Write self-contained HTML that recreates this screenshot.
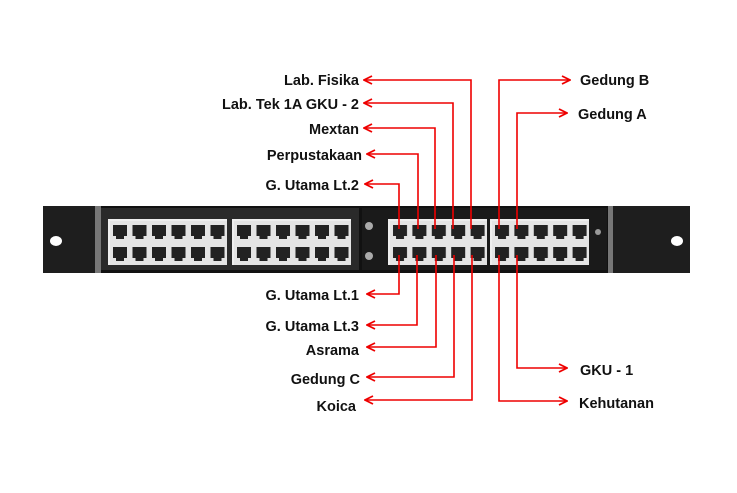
<!DOCTYPE html>
<html><head><meta charset="utf-8"><style>
html,body{margin:0;padding:0;background:#fff;}
svg{display:block}
text{font-family:"Liberation Sans",Arial,sans-serif;font-weight:bold;font-size:14.5px;fill:#111}
</style></head><body>
<svg width="737" height="493" viewBox="0 0 737 493" xmlns="http://www.w3.org/2000/svg">
<defs>
<marker id="a" markerWidth="10" markerHeight="10" refX="9" refY="5" orient="auto" markerUnits="userSpaceOnUse">
<path d="M1,1 L9,5 L1,9" fill="none" stroke="#e00" stroke-width="1.8"/>
</marker>
<pattern id="p1" x="110" y="221" width="19.5" height="22" patternUnits="userSpaceOnUse">
<rect x="0" y="0" width="19.5" height="22" fill="#e4e4e4"/>
<rect x="3" y="4" width="14" height="11" fill="#222"/>
<rect x="6" y="14" width="8" height="4" fill="#222"/>
</pattern>
<pattern id="p2" x="234" y="221" width="19.5" height="22" patternUnits="userSpaceOnUse">
<rect x="0" y="0" width="19.5" height="22" fill="#e4e4e4"/>
<rect x="3" y="4" width="14" height="11" fill="#222"/>
<rect x="6" y="14" width="8" height="4" fill="#222"/>
</pattern>
<pattern id="p3" x="390" y="221" width="19.4" height="22" patternUnits="userSpaceOnUse">
<rect x="0" y="0" width="19.4" height="22" fill="#e4e4e4"/>
<rect x="3" y="4" width="14" height="11" fill="#222"/>
<rect x="6" y="14" width="8" height="4" fill="#222"/>
</pattern>
<pattern id="p4" x="492" y="221" width="19.4" height="22" patternUnits="userSpaceOnUse">
<rect x="0" y="0" width="19.4" height="22" fill="#e4e4e4"/>
<rect x="3" y="4" width="14" height="11" fill="#222"/>
<rect x="6" y="14" width="8" height="4" fill="#222"/>
</pattern>
</defs>
<rect x="43" y="206" width="647" height="67" fill="#111"/>
<rect x="43" y="206" width="52" height="67" fill="#1e1e1e"/>
<rect x="612" y="206" width="78" height="67" fill="#1e1e1e"/>
<rect x="95" y="206" width="6" height="67" fill="#777"/>
<rect x="608" y="206" width="5" height="67" fill="#777"/>
<ellipse cx="56" cy="241" rx="6" ry="5" fill="#fff"/>
<ellipse cx="677" cy="241" rx="6" ry="5" fill="#fff"/>
<rect x="101" y="208" width="258" height="62" fill="#2a2a2a"/>
<rect x="362" y="208" width="245" height="62" fill="#1a1a1a"/>
<rect x="108" y="219" width="119" height="46" fill="#eee"/>
<rect x="110" y="221" width="117" height="44" fill="url(#p1)"/>
<rect x="232" y="219" width="119" height="46" fill="#eee"/>
<rect x="234" y="221" width="117" height="44" fill="url(#p2)"/>
<rect x="388" y="219" width="99" height="46" fill="#eee"/>
<rect x="390" y="221" width="97" height="44" fill="url(#p3)"/>
<rect x="490" y="219" width="99" height="46" fill="#eee"/>
<rect x="492" y="221" width="97" height="44" fill="url(#p4)"/>
<circle cx="369" cy="226" r="4" fill="#aaa"/>
<circle cx="369" cy="256" r="4" fill="#aaa"/>
<circle cx="598" cy="232" r="3" fill="#999"/>
<g stroke="#e00" stroke-width="1.6" fill="none" marker-end="url(#a)">
<polyline points="471,229 471,80 364,80"/>
<polyline points="453,229 453,103 364,103"/>
<polyline points="435,229 435,128 364,128"/>
<polyline points="418,229 418,154 367,154"/>
<polyline points="399,229 399,184 365,184"/>
<polyline points="499,229 499,80 570,80"/>
<polyline points="517,229 517,113 567,113"/>
<polyline points="399,255 399,294 367,294"/>
<polyline points="417,255 417,325 367,325"/>
<polyline points="436,255 436,347 367,347"/>
<polyline points="454,255 454,377 367,377"/>
<polyline points="472,255 472,400 365,400"/>
<polyline points="517,255 517,368 567,368"/>
<polyline points="499,255 499,401 567,401"/>
</g>
<g text-anchor="end">
<text x="359" y="85">Lab. Fisika</text>
<text x="359" y="109">Lab. Tek 1A GKU - 2</text>
<text x="359" y="134">Mextan</text>
<text x="362" y="160">Perpustakaan</text>
<text x="359" y="190">G. Utama Lt.2</text>
<text x="359" y="300">G. Utama Lt.1</text>
<text x="359" y="331">G. Utama Lt.3</text>
<text x="359" y="355">Asrama</text>
<text x="360" y="384">Gedung C</text>
<text x="356" y="411">Koica</text>
</g>
<text x="580" y="85">Gedung B</text>
<text x="578" y="119">Gedung A</text>
<text x="580" y="375">GKU - 1</text>
<text x="579" y="408">Kehutanan</text>
</svg>
</body></html>
